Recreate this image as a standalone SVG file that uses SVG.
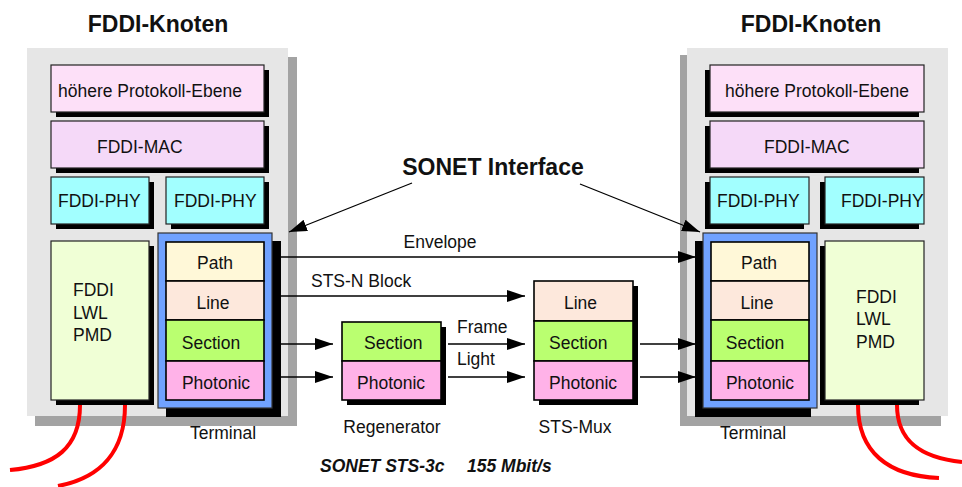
<svg xmlns="http://www.w3.org/2000/svg" width="962" height="487" viewBox="0 0 962 487">
  <style>
    text { font-family: "Liberation Sans", Arial, sans-serif; font-size: 17.5px; fill: #111; }
    .title { font-size: 23px; font-weight: bold; }
    .foot { font-weight: bold; font-style: italic; }
    .panel { fill: #e6e6e6; }
    .pshadow { fill: #a3a3a3; }
    .sh { fill: #000; }
    .box { stroke: #222; stroke-width: 1.2; }
    .hp { fill: #fde0f8; }
    .mac { fill: #f5d9f8; }
    .phy { fill: #a2ffff; }
    .pmd { fill: #f0ffd6; }
    .blue { fill: #70a2ff; stroke: #333; stroke-width: 1.2; }
    .path { fill: #fff8d8; }
    .line { fill: #fde8dc; }
    .sect { fill: #baff70; }
    .phot { fill: #ffb2e8; }
    .lay { stroke: #000; stroke-width: 1.6; }
    .conn { stroke: #000; stroke-width: 1.3; fill: none; }
    .cable { stroke: #ff0000; stroke-width: 4; fill: none; }
  </style>
  <defs>
    <marker id="arr" viewBox="0 0 18 12" refX="18" refY="6" markerWidth="18" markerHeight="12" markerUnits="userSpaceOnUse" orient="auto">
      <path d="M0,0 L18,6 L0,12 Z" fill="#000"/>
    </marker>
  </defs>

  <!-- left FDDI node -->
  <g id="node-left">
    <text class="title" x="158" y="32" text-anchor="middle">FDDI-Knoten</text>
    <rect class="pshadow" x="35" y="57" width="262" height="369"/>
    <rect class="panel" x="27" y="48" width="261" height="368"/>
    <rect class="sh" x="56" y="70" width="213" height="47"/>
    <rect class="box hp" x="51" y="65" width="213" height="47"/>
    <text x="58" y="97">höhere Protokoll-Ebene</text>
    <rect class="sh" x="56" y="126" width="213" height="47"/>
    <rect class="box mac" x="51" y="121" width="213" height="47"/>
    <text x="97" y="153">FDDI-MAC</text>
    <rect class="sh" x="56" y="182" width="98" height="47"/>
    <rect class="box phy" x="51" y="177" width="98" height="47"/>
    <text x="58" y="207">FDDI-PHY</text>
    <rect class="sh" x="171" y="182" width="98" height="47"/>
    <rect class="box phy" x="166" y="177" width="98" height="47"/>
    <text x="174" y="207">FDDI-PHY</text>
    <rect class="sh" x="56" y="246" width="98" height="159"/>
    <rect class="box pmd" x="51" y="241" width="98" height="159"/>
    <text x="73" y="296">FDDI</text>
    <text x="73" y="319">LWL</text>
    <text x="73" y="341">PMD</text>
    <rect class="sh" x="166" y="241" width="115" height="176"/>
    <rect class="blue" x="158" y="233" width="114" height="175"/>
    <rect class="lay path" x="166" y="242" width="98" height="39"/>
    <text x="215" y="269" text-anchor="middle">Path</text>
    <rect class="lay line" x="166" y="281" width="98" height="39"/>
    <text x="213" y="309" text-anchor="middle">Line</text>
    <rect class="lay sect" x="166" y="320" width="98" height="41"/>
    <text x="211" y="349" text-anchor="middle">Section</text>
    <rect class="lay phot" x="166" y="361" width="98" height="39"/>
    <text x="216" y="389" text-anchor="middle">Photonic</text>
    <text x="223" y="439" text-anchor="middle">Terminal</text>
    <path class="cable" d="M80,405 C80,448 55,466 10,470"/>
    <path class="cable" d="M125,405 C125,452 100,478 58,486"/>
  </g>

  <!-- right FDDI node -->
  <g id="node-right">
    <text class="title" x="811" y="32" text-anchor="middle">FDDI-Knoten</text>
    <rect class="pshadow" x="680" y="55" width="261" height="371"/>
    <rect class="panel" x="687" y="48" width="261" height="368"/>
    <rect class="sh" x="705" y="70" width="214" height="47"/>
    <rect class="box hp" x="710" y="65" width="214" height="47"/>
    <text x="725" y="97">höhere Protokoll-Ebene</text>
    <rect class="sh" x="705" y="126" width="214" height="47"/>
    <rect class="box mac" x="710" y="121" width="214" height="47"/>
    <text x="764" y="153">FDDI-MAC</text>
    <rect class="sh" x="705" y="182" width="99" height="47"/>
    <rect class="box phy" x="710" y="177" width="99" height="47"/>
    <text x="717" y="207">FDDI-PHY</text>
    <rect class="sh" x="820" y="182" width="99" height="47"/>
    <rect class="box phy" x="825" y="177" width="99" height="47"/>
    <text x="841" y="207">FDDI-PHY</text>
    <rect class="sh" x="820" y="246" width="99" height="159"/>
    <rect class="box pmd" x="825" y="241" width="99" height="159"/>
    <text x="856" y="303">FDDI</text>
    <text x="856" y="325">LWL</text>
    <text x="856" y="348">PMD</text>
    <rect class="sh" x="695" y="241" width="116" height="176"/>
    <rect class="blue" x="703" y="233" width="114" height="175"/>
    <rect class="lay path" x="711" y="242" width="98" height="39"/>
    <text x="759" y="269" text-anchor="middle">Path</text>
    <rect class="lay line" x="711" y="281" width="98" height="39"/>
    <text x="757" y="309" text-anchor="middle">Line</text>
    <rect class="lay sect" x="711" y="320" width="98" height="41"/>
    <text x="755" y="349" text-anchor="middle">Section</text>
    <rect class="lay phot" x="711" y="361" width="98" height="39"/>
    <text x="760" y="389" text-anchor="middle">Photonic</text>
    <text x="753" y="439" text-anchor="middle">Terminal</text>
    <path class="cable" d="M858,405 C858,452 888,476 939,478"/>
    <path class="cable" d="M897,405 C897,442 922,458 962,462"/>
  </g>

  <!-- regenerator -->
  <g id="regenerator">
    <rect class="sh" x="347" y="327" width="99" height="78"/>
    <rect class="lay sect" x="342" y="322" width="99" height="39"/>
    <text x="364" y="349">Section</text>
    <rect class="lay phot" x="342" y="361" width="99" height="39"/>
    <text x="357" y="389">Photonic</text>
    <text x="392" y="433" text-anchor="middle">Regenerator</text>
  </g>

  <!-- STS multiplexer -->
  <g id="sts-mux">
    <rect class="sh" x="539" y="286" width="99" height="119"/>
    <rect class="lay line" x="534" y="281" width="99" height="40"/>
    <text x="564" y="309">Line</text>
    <rect class="lay sect" x="534" y="321" width="99" height="40"/>
    <text x="549" y="349">Section</text>
    <rect class="lay phot" x="534" y="361" width="99" height="39"/>
    <text x="549" y="389">Photonic</text>
    <text x="575" y="433" text-anchor="middle">STS-Mux</text>
  </g>

  <!-- interface callout -->
  <g id="sonet-interface">
    <text class="title" x="493" y="175" text-anchor="middle">SONET Interface</text>
  </g>

  <!-- connectors -->
  <g id="connectors">
    <line class="conn" x1="412" y1="183" x2="289" y2="232" marker-end="url(#arr)"/>
    <line class="conn" x1="580" y1="184" x2="700" y2="232" marker-end="url(#arr)"/>
    <line class="conn" x1="281" y1="257" x2="696" y2="257" marker-end="url(#arr)"/>
    <line class="conn" x1="281" y1="296" x2="525" y2="296" marker-end="url(#arr)"/>
    <line class="conn" x1="281" y1="344" x2="333" y2="344" marker-end="url(#arr)"/>
    <line class="conn" x1="281" y1="377" x2="333" y2="377" marker-end="url(#arr)"/>
    <line class="conn" x1="448" y1="344" x2="525" y2="344" marker-end="url(#arr)"/>
    <line class="conn" x1="448" y1="377" x2="525" y2="377" marker-end="url(#arr)"/>
    <line class="conn" x1="640" y1="344" x2="696" y2="344" marker-end="url(#arr)"/>
    <line class="conn" x1="640" y1="377" x2="696" y2="377" marker-end="url(#arr)"/>
    <text x="440" y="248" text-anchor="middle">Envelope</text>
    <text x="311" y="287">STS-N Block</text>
    <text x="457" y="333">Frame</text>
    <text x="457" y="365">Light</text>
  </g>

  <!-- caption -->
  <text class="foot" x="320" y="472">SONET STS-3c</text>
  <text class="foot" x="467" y="472">155 Mbit/s</text>
</svg>
